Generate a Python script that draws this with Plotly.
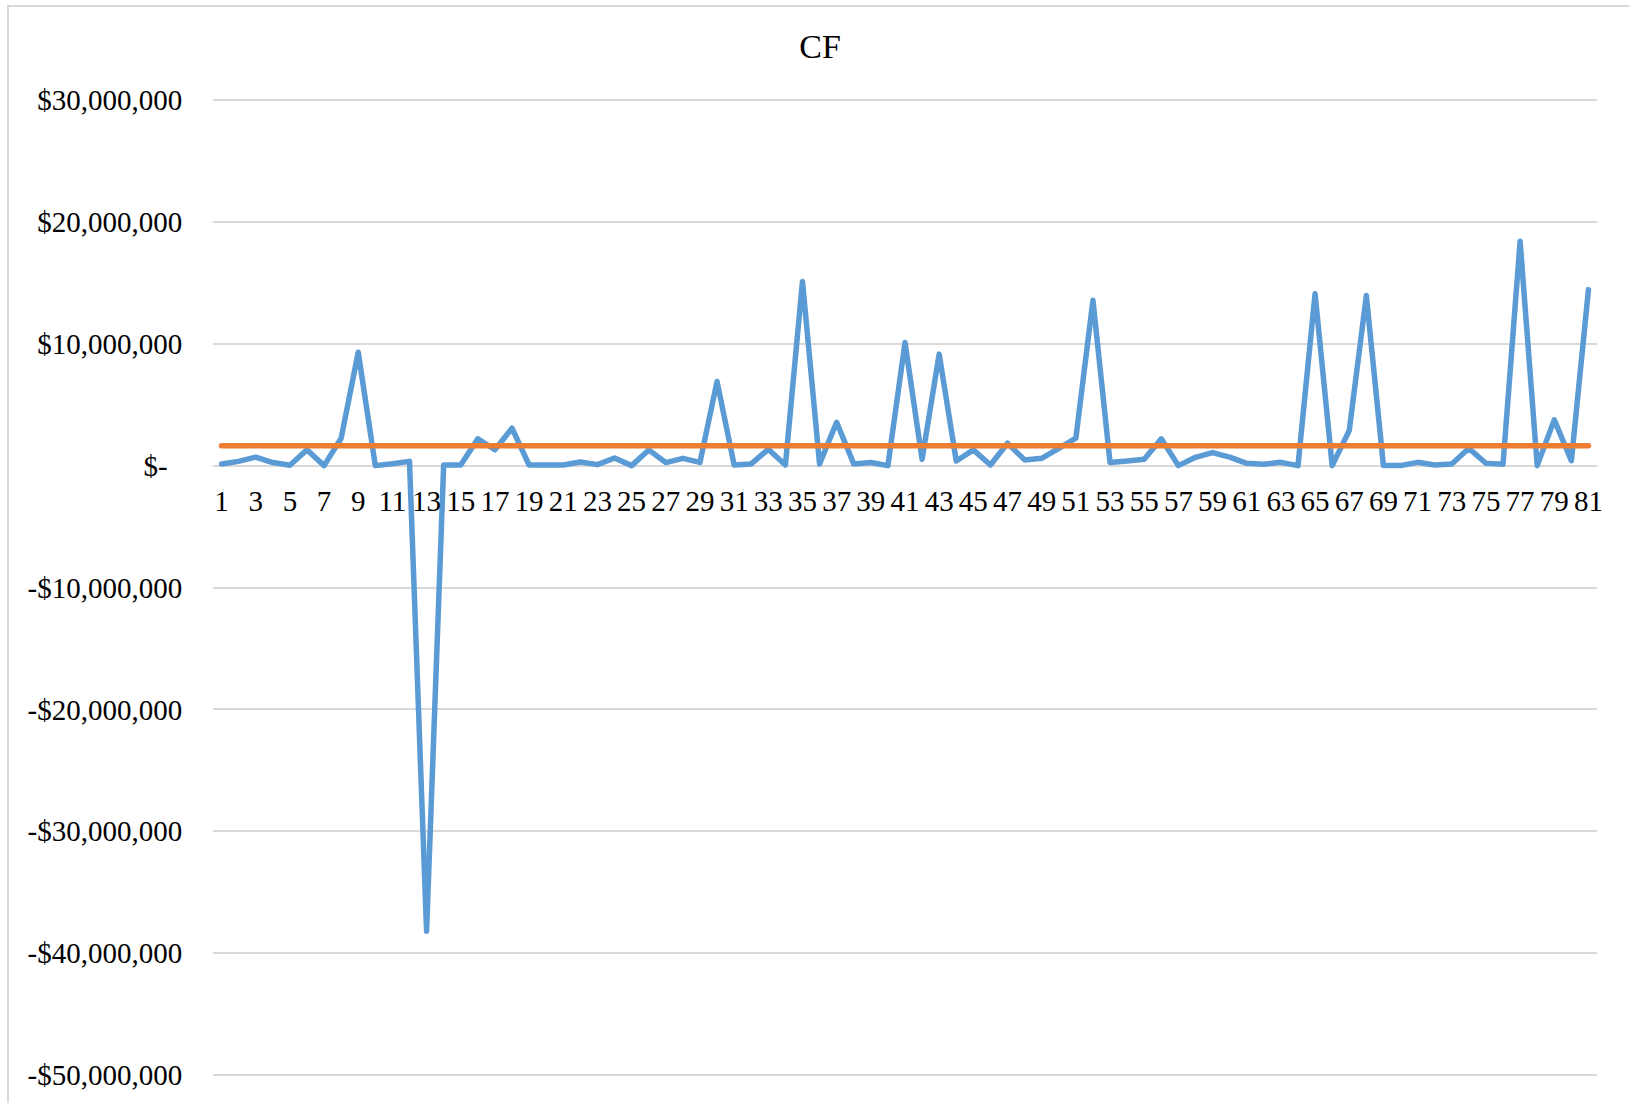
import plotly.graph_objects as go

# ---- data ----
periods = list(range(1, 82))
cf_millions = [
    0.14, 0.35, 0.70, 0.25, 0.03, 1.30, 0.00, 2.25, 9.30, 0.00,
    0.15, 0.35, -38.20, 0.05, 0.05, 2.20, 1.30, 3.07, 0.05, 0.00,
    0.05, 0.30, 0.08, 0.63, 0.00, 1.29, 0.25, 0.60, 0.27, 6.90,
    0.05, 0.14, 1.34, 0.05, 15.10, 0.14, 3.56, 0.14, 0.25, 0.00,
    10.10, 0.52, 9.15, 0.38, 1.29, 0.05, 1.84, 0.47, 0.60, 1.42,
    2.25, 13.56, 0.25, 0.38, 0.52, 2.20, 0.00, 0.68, 1.07, 0.70,
    0.19, 0.11, 0.27, 0.00, 14.10, 0.00, 2.88, 13.95, 0.00, 0.00,
    0.27, 0.05, 0.14, 1.42, 0.19, 0.11, 18.40, 0.00, 3.75, 0.41,
    14.44,
]
cf_values = [v * 1_000_000 for v in cf_millions]
average_cf = 1_620_000
average_series = [average_cf] * len(periods)

y_tick_values = [30_000_000, 20_000_000, 10_000_000, 0, -10_000_000,
                 -20_000_000, -30_000_000, -40_000_000, -50_000_000]
y_tick_labels = ["$30,000,000", "$20,000,000", "$10,000,000", "$-\u00a0\u00a0",
                 "-$10,000,000", "-$20,000,000", "-$30,000,000",
                 "-$40,000,000", "-$50,000,000"]
x_tick_values = periods[::2]
x_tick_labels = [str(p) for p in x_tick_values]

FONT = "Liberation Serif, Times New Roman, serif"
W, H = 1629, 1103
L, R, T, B = 213, 32, 99, 27
plot_w = W - L - R
plot_h = H - T - B

fig = go.Figure()
fig.add_trace(go.Scatter(
    x=periods, y=cf_values, mode="lines", name="CF",
    line=dict(color="#5b9bd5", width=5.5),
))
fig.add_trace(go.Scatter(
    x=periods, y=average_series, mode="lines", name="Average",
    line=dict(color="#ed7d31", width=5.5),
))

y_min, y_max = -50_080_000, 30_080_000
zero_pos = (0 - y_min) / (y_max - y_min)

fig.update_layout(
    width=W, height=H,
    margin=dict(l=L, r=R, t=T, b=B, pad=0),
    paper_bgcolor="white", plot_bgcolor="white",
    showlegend=False,
    font=dict(family=FONT, color="black", size=29),
    title=dict(text="CF", x=820 / W, xref="container", xanchor="center",
               y=1 - 46 / H, yref="container", yanchor="middle",
               font=dict(family=FONT, size=34, color="black")),
    xaxis=dict(
        range=[0.5, 81.5], tickmode="array", tickvals=x_tick_values,
        ticktext=x_tick_labels, showgrid=False, zeroline=False,
        showline=False, anchor="free", position=zero_pos,
        ticks="outside", ticklen=10, tickcolor="rgba(0,0,0,0)",
        tickfont=dict(family=FONT, size=29, color="black"), tickangle=0,
    ),
    yaxis=dict(
        range=[y_min, y_max], tickmode="array", tickvals=y_tick_values,
        ticktext=y_tick_labels, showgrid=True, gridcolor="#d9d9d9",
        gridwidth=2, zeroline=False, showline=False,
        ticks="outside", ticklen=24, tickcolor="rgba(0,0,0,0)",
        tickfont=dict(family=FONT, size=29, color="black"),
    ),
)

# edge gridlines (plotly drops gridlines at the very ends of the range)
for edge in (y_tick_values[0], y_tick_values[-1]):
    fig.add_shape(type="line", xref="paper", yref="y", x0=0, x1=1,
                  y0=edge, y1=edge, line=dict(color="#d9d9d9", width=2),
                  layer="below")

# light gray chart-area border
def px_x(px):
    return (px - L) / plot_w

def px_y(py):
    return (H - B - py) / plot_h

fig.add_shape(type="rect", xref="paper", yref="paper",
              x0=px_x(8), x1=px_x(W + 20), y0=px_y(H + 20), y1=px_y(6),
              line=dict(color="#d9d9d9", width=2), fillcolor="rgba(0,0,0,0)",
              layer="below")

post = (
    "document.body.style.margin='0';document.body.style.overflow='hidden';"
    "var s=document.createElement('style');"
    "s.innerHTML='.js-line{stroke-linejoin:round !important;stroke-linecap:round !important;}';"
    "document.head.appendChild(s);"
)
fig.write_html("out.html", post_script=post, config={"displayModeBar": False})
